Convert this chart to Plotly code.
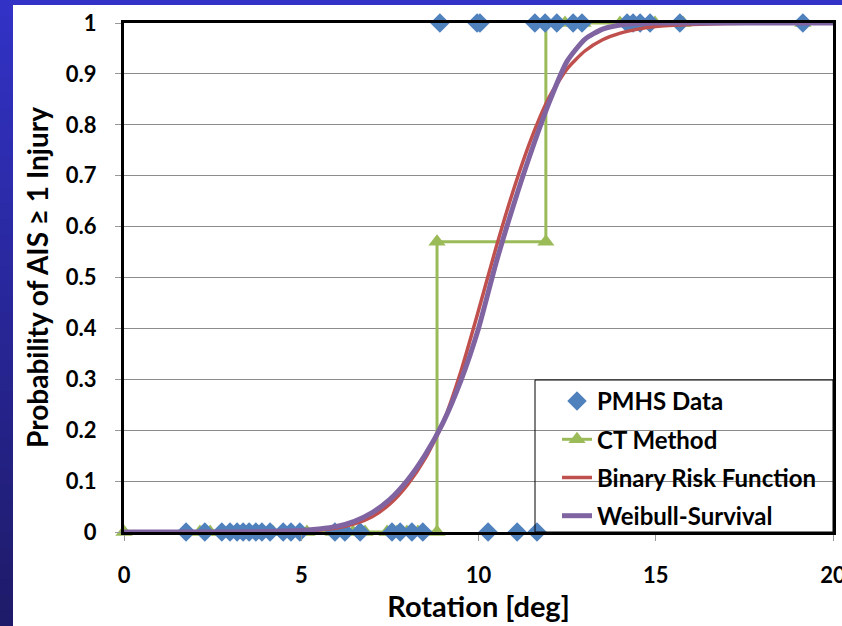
import plotly.graph_objects as go

# ---------------- data ----------------
pmhs_rotation = [1.75, 2.28, 2.76, 2.99, 3.19, 3.36, 3.53, 3.72, 3.89, 4.12, 4.49, 4.71, 4.96,
                 5.95, 6.23, 6.66, 7.56, 7.79, 8.12, 8.43, 10.27, 11.09, 11.65,
                 8.91, 9.96, 10.04, 11.59, 11.88, 12.21, 12.67, 12.92, 14.19, 14.36, 14.56,
                 14.84, 15.68, 19.15]
pmhs_injury = [0] * 23 + [1] * 14

ct_rotation = [0, 2.14, 2.43, 2.71, 4.2, 4.49, 4.77, 5.16, 5.9, 6.15, 6.46, 6.8, 7.42, 7.7,
               7.98, 8.29, 8.83, 8.83, 11.9, 11.9, 12.44, 12.95, 13.99, 14.98, 15.77, 19.15]
ct_prob = [0] * 17 + [0.57, 0.57] + [1] * 7

curve_rotation = [0, 1, 2, 3, 4, 5, 5.5, 6, 6.5, 7, 7.5, 8, 8.5, 9, 9.5, 10, 10.5, 11, 11.5,
                  12, 12.5, 13, 13.5, 14, 14.5, 15, 16, 17, 18, 20]
binary_prob = [0, 0, 0, 0.0003, 0.0008, 0.002, 0.004, 0.008, 0.016, 0.03, 0.055, 0.093, 0.145,
               0.215, 0.315, 0.435, 0.56, 0.675, 0.775, 0.855, 0.91, 0.945, 0.967, 0.98, 0.988,
               0.993, 0.997, 0.999, 1, 1]
weibull_prob = [0, 0, 0, 0.0002, 0.0008, 0.003, 0.006, 0.011, 0.021, 0.038, 0.064, 0.102, 0.152,
                0.215, 0.297, 0.40, 0.53, 0.645, 0.75, 0.845, 0.925, 0.968, 0.988, 0.996, 0.999,
                1, 1, 1, 1, 1]

y_ticks = [0, 0.1, 0.2, 0.3, 0.4, 0.5, 0.6, 0.7, 0.8, 0.9, 1]
y_tick_text = ["0", "0.1", "0.2", "0.3", "0.4", "0.5", "0.6", "0.7", "0.8", "0.9", "1"]
x_ticks = [0, 5, 10, 15, 20]

BLUE = "#4F81BD"
GREEN = "#9BBB59"
RED = "#C0504D"
PURPLE = "#8064A2"
FONT = "Lato"

fig = go.Figure()

fig.add_trace(go.Scatter(
    x=ct_rotation, y=ct_prob, mode="lines+markers", name="CT Method",
    line=dict(color=GREEN, width=3),
    marker=dict(symbol="triangle-up", size=15, color=GREEN),
    cliponaxis=False, legendrank=2, legendgroup="b"))

fig.add_trace(go.Scatter(
    x=pmhs_rotation, y=pmhs_injury, mode="markers", name="PMHS Data",
    marker=dict(symbol="diamond", size=15, color=BLUE),
    cliponaxis=False, legendrank=1, legendgroup="a"))

fig.add_trace(go.Scatter(
    x=curve_rotation, y=binary_prob, mode="lines", name="Binary Risk Function",
    line=dict(color=RED, width=3.5, shape="spline", smoothing=0.6),
    cliponaxis=False, legendrank=3, legendgroup="c"))

fig.add_trace(go.Scatter(
    x=curve_rotation, y=weibull_prob, mode="lines", name="Weibull-Survival",
    line=dict(color=PURPLE, width=5, shape="spline", smoothing=0.6),
    cliponaxis=False, legendrank=4, legendgroup="d"))

# ---------------- background decoration ----------------
L, R, T, B = 124, 9, 23, 94
W, H = 842, 626
pw, ph = W - L - R, H - T - B


def px2x(px):
    return (px - L) / pw


def py2y(py):
    return (H - B - py) / ph


shapes = []
# white panel
shapes.append(dict(type="rect", xref="paper", yref="paper", layer="below",
                   x0=px2x(13), x1=px2x(W + 2), y0=py2y(H + 2), y1=py2y(5),
                   fillcolor="white", line=dict(width=0)))
# left gradient strip
n = 40
c_top = (50, 50, 198)
c_bot = (30, 27, 106)
for i in range(n):
    t = i / (n - 1)
    c = tuple(int(round(c_top[k] + (c_bot[k] - c_top[k]) * t)) for k in range(3))
    shapes.append(dict(type="rect", xref="paper", yref="paper", layer="below",
                       x0=px2x(-2), x1=px2x(13),
                       y0=py2y((i + 1) * H / n + 1), y1=py2y(i * H / n),
                       fillcolor="rgb(%d,%d,%d)" % c, line=dict(width=0)))
# legend frame
shapes.append(dict(type="rect", xref="paper", yref="paper", layer="above",
                   x0=px2x(535), x1=1, y0=0, y1=py2y(380),
                   fillcolor="rgba(0,0,0,0)", line=dict(color="black", width=1)))

fig.update_layout(
    width=W, height=H,
    margin=dict(l=L, r=R, t=T, b=B, autoexpand=False),
    paper_bgcolor="rgb(50,50,198)",
    plot_bgcolor="white",
    shapes=shapes,
    font=dict(family=FONT, color="black"),
    showlegend=True,
    legend=dict(
        x=px2x(557), y=py2y(379), xanchor="left", yanchor="top",
        bgcolor="rgba(0,0,0,0)", borderwidth=0,
        font=dict(family=FONT, size=24, color="black", weight="bold"),
        traceorder="grouped", tracegroupgap=4, itemwidth=30,
    ),
)

fig.update_xaxes(
    range=[0, 20], tickvals=x_ticks, showgrid=False, zeroline=False,
    showline=True, linecolor="black", linewidth=3, mirror=True,
    ticks="outside", ticklen=6, tickcolor="#999", tickwidth=1,
    ticklabelstandoff=16, ticklabeloverflow="allow", automargin=False,
    tickfont=dict(family=FONT, size=22, weight="bold"),
    title=dict(text="Rotation [deg]", standoff=10,
               font=dict(family=FONT, size=29, weight="bold")),
)
fig.update_yaxes(
    range=[0, 1], tickvals=y_ticks, ticktext=y_tick_text,
    showgrid=True, gridcolor="#8c8c8c", gridwidth=1, zeroline=False,
    showline=True, linecolor="black", linewidth=3, mirror=True,
    ticks="outside", ticklen=6, tickcolor="#999", tickwidth=1,
    ticklabelstandoff=14, automargin=False,
    tickfont=dict(family=FONT, size=22, weight="bold"),
    title=dict(text="Probability of AIS ≥ 1 Injury", standoff=10,
               font=dict(family=FONT, size=28, weight="bold")),
)

fig.write_html("out.html")
